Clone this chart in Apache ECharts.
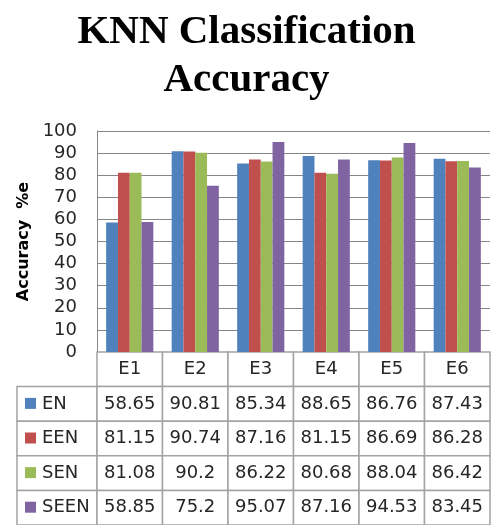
<!doctype html>
<html>
<head>
<meta charset="UTF-8">
<title>KNN Classification Accuracy</title>
<script src="https://cdn.jsdelivr.net/npm/echarts@6/dist/echarts.min.js"></script>
<style>
  html, body { margin: 0; padding: 0; background: #fff; }
  #chart { width: 493px; height: 525px; }
</style>
</head>
<body>
<div id="chart"></div>
<script>
// data
var categories = ['E1', 'E2', 'E3', 'E4', 'E5', 'E6'];
var seriesNames = ['EN', 'EEN', 'SEN', 'SEEN'];
var EN   = [58.65, 90.81, 85.34, 88.65, 86.76, 87.43];
var EEN  = [81.15, 90.74, 87.16, 81.15, 86.69, 86.28];
var SEN  = [81.08, 90.2, 86.22, 80.68, 88.04, 86.42];
var SEEN = [58.85, 75.2, 95.07, 87.16, 94.53, 83.45];
var yTicks = [0, 100, 10]; // min, max, step

var colorList = ['#4f81bd', '#c0504d', '#9bbb59', '#8064a2'];
var values = [EN, EEN, SEN, SEEN];

var myChart = echarts.init(document.getElementById('chart'));

// table cells: row 0 = header, rows 1..4 = series
var tableRows = ['hdr'].concat(seriesNames);
var cells = [];     // [col, row]
var cellText = [];  // text + kind
for (var r = 0; r < tableRows.length; r++) {
    if (r > 0) {
        cells.push([0, r]);
        cellText.push({ kind: 'label', text: seriesNames[r - 1], color: colorList[r - 1] });
    }
    for (var c = 0; c < categories.length; c++) {
        cells.push([c, r]);
        cellText.push({ kind: 'cell', text: r === 0 ? categories[c] : String(values[r - 1][c]) });
    }
}

var LABEL_W = 80;
var lineCol = '#a3a3a3';
var txtFont = 'DejaVu Sans';

function renderCell(params, api) {
    var info = cellText[params.dataIndex];
    var p = api.coord([api.value(0), api.value(1)]);
    var s = api.size([1, 1]);
    var x = p[0] - s[0] / 2, y = p[1] - s[1] / 2;
    if (info.kind === 'label') {
        x = x - LABEL_W;
        return {
            type: 'group',
            children: [
                { type: 'rect', shape: { x: x, y: y, width: LABEL_W, height: s[1] },
                  style: { fill: '#fff', stroke: lineCol, lineWidth: 1.5 } },
                { type: 'rect', shape: { x: x + 8, y: p[1] - 6, width: 11, height: 11 },
                  style: { fill: info.color } },
                { type: 'text', x: x + 25, y: p[1],
                  style: { text: info.text, fill: '#262626', font: '18px ' + txtFont,
                           align: 'left', verticalAlign: 'middle' } }
            ]
        };
    }
    return {
        type: 'group',
        children: [
            { type: 'rect', shape: { x: x, y: y, width: s[0], height: s[1] },
              style: { fill: '#fff', stroke: lineCol, lineWidth: 1.5 } },
            { type: 'text', x: p[0], y: p[1],
              style: { text: info.text, fill: '#262626', font: '18px ' + txtFont,
                       align: 'center', verticalAlign: 'middle' } }
        ]
    };
}

var barSeries = seriesNames.map(function (name, i) {
    return {
        name: name,
        type: 'bar',
        xAxisIndex: 0,
        yAxisIndex: 0,
        data: values[i],
        barGap: '0%',
        barCategoryGap: '28%',
        itemStyle: { color: colorList[i] },
        z: 2
    };
});

var option = {
    animation: false,
    title: {
        text: 'KNN Classification\nAccuracy',
        left: 'center',
        top: 3,
        textStyle: {
            fontFamily: 'Liberation Serif',
            fontWeight: 'bold',
            fontSize: 41,
            lineHeight: 48,
            color: '#000'
        }
    },
    grid: [
        { left: 97, right: 3, top: 131, height: 221 },
        { left: 97, right: 3, top: 352, height: 180 }
    ],
    xAxis: [
        { type: 'category', gridIndex: 0, data: categories,
          axisLine: { show: false }, axisTick: { show: false }, axisLabel: { show: false } },
        { type: 'category', gridIndex: 1, data: categories, show: false }
    ],
    yAxis: [
        {
            type: 'value', gridIndex: 0,
            min: yTicks[0], max: yTicks[1], interval: yTicks[2],
            name: 'Accuracy  %e',
            nameLocation: 'middle',
            nameRotate: 90,
            nameGap: 64,
            nameTextStyle: { fontFamily: txtFont, fontWeight: 'bold', fontSize: 16, color: '#000' },
            axisLine: { show: true, lineStyle: { color: '#868686', width: 1 } },
            axisTick: { show: false },
            axisLabel: { fontFamily: txtFont, fontSize: 18, color: '#262626', margin: 20 },
            splitLine: { lineStyle: { color: '#868686', width: 1 } }
        },
        { type: 'category', gridIndex: 1, data: tableRows, inverse: true, show: false }
    ],
    series: barSeries.concat([{
        type: 'custom',
        xAxisIndex: 1,
        yAxisIndex: 1,
        data: cells,
        renderItem: renderCell,
        clip: false,
        z: 1
    }])
};
myChart.setOption(option);
</script>
</body>
</html>
